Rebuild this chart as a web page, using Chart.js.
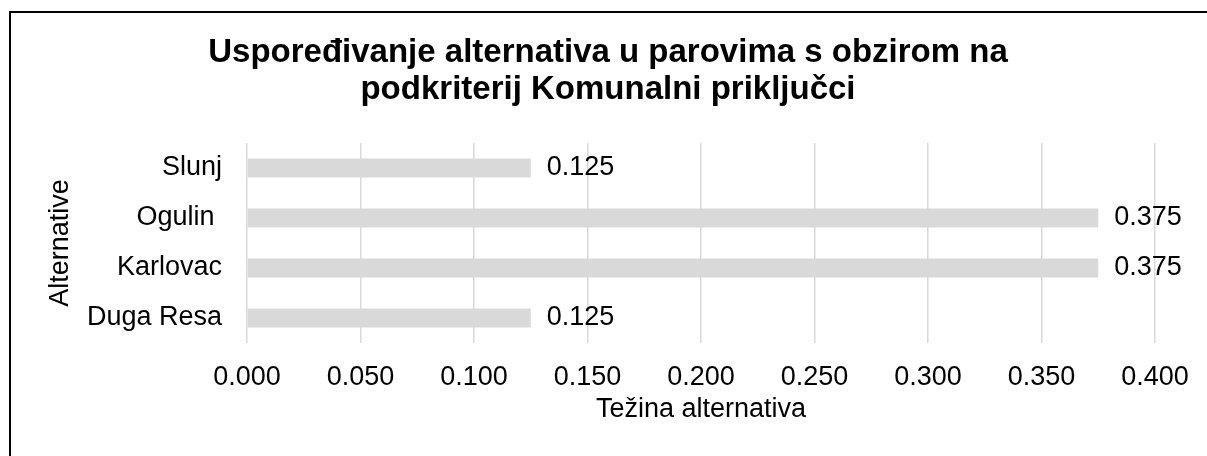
<!DOCTYPE html>
<html>
<head>
<meta charset="utf-8">
<script src="https://cdn.jsdelivr.net/npm/chart.js@4/dist/chart.umd.min.js"></script>
<style>
  body { margin: 0; background: #fff; overflow: hidden; }
  #wrap { position: relative; width: 1207px; height: 456px; overflow: hidden; }
  #frame {
    position: absolute; left: 9px; top: 11px; width: 1300px; height: 600px;
    border: 2px solid #000; pointer-events: none;
  }
</style>
</head>
<body>
<div id="wrap">
  <canvas id="chart" width="1207" height="456"></canvas>
  <div id="frame"></div>
</div>
<script>
const alternatives = ['Slunj', 'Ogulin ', 'Karlovac', 'Duga Resa'];
const weights = [0.125, 0.375, 0.375, 0.125];
const xMin = 0;
const xMax = 0.4;
const xStep = 0.05;

const BAR_COLOR = '#d9d9d9';
const GRID_COLOR = '#d9d9d9';
const TEXT_COLOR = '#000';
const FONT = "'Liberation Sans', Arial, sans-serif";

Chart.defaults.font.family = FONT;
Chart.defaults.color = TEXT_COLOR;

// small value-label plugin (no datalabels plugin offline)
const valueLabels = {
    id: 'valueLabels',
    afterDatasetsDraw(chart) {
        const ctx = chart.ctx;
        ctx.save();
        ctx.font = '27px ' + FONT;
        ctx.fillStyle = TEXT_COLOR;
        ctx.textAlign = 'left';
        ctx.textBaseline = 'middle';
        chart.getDatasetMeta(0).data.forEach((bar, i) => {
            ctx.fillText(weights[i].toFixed(3), bar.x + 16, bar.y);
        });
        ctx.restore();
    }
};

new Chart(document.getElementById('chart'), {
    type: 'bar',
    data: {
        labels: alternatives,
        datasets: [{
            data: weights,
            backgroundColor: BAR_COLOR,
            borderWidth: 0,
            barPercentage: 0.38,
            categoryPercentage: 1
        }]
    },
    options: {
        indexAxis: 'y',
        responsive: false,
        animation: false,
        layout: {
            padding: { left: 9, right: 0, top: 0, bottom: 0 }
        },
        plugins: {
            legend: { display: false },
            tooltip: { enabled: false },
            title: {
                display: true,
                text: ['Uspoređivanje alternativa u parovima s obzirom na', 'podkriterij Komunalni priključci'],
                font: { size: 33, weight: 'bold', lineHeight: 1.12 },
                color: TEXT_COLOR,
                padding: { top: 34, bottom: 35 }
            }
        },
        scales: {
            x: {
                min: xMin,
                max: xMax,
                ticks: {
                    stepSize: xStep,
                    font: { size: 27 },
                    color: TEXT_COLOR,
                    padding: 18,
                    callback: v => Number(v).toFixed(3)
                },
                grid: { color: GRID_COLOR, lineWidth: 1.5, drawTicks: false },
                border: { display: false },
                title: {
                    display: true,
                    text: 'Težina alternativa',
                    font: { size: 27 },
                    color: TEXT_COLOR,
                    padding: { top: 0, bottom: 30 }
                },
                afterFit: s => { s.height = 113; s.paddingRight = 52; }
            },
            y: {
                ticks: {
                    font: { size: 27 },
                    color: TEXT_COLOR,
                    padding: 25
                },
                grid: { display: false, drawTicks: false },
                border: { display: false },
                title: {
                    display: true,
                    text: 'Alternative',
                    font: { size: 27 },
                    color: TEXT_COLOR,
                    padding: { top: 35, bottom: 0 }
                },
                afterFit: s => { s.width = 238; }
            }
        }
    },
    plugins: [valueLabels]
});
</script>
</body>
</html>
